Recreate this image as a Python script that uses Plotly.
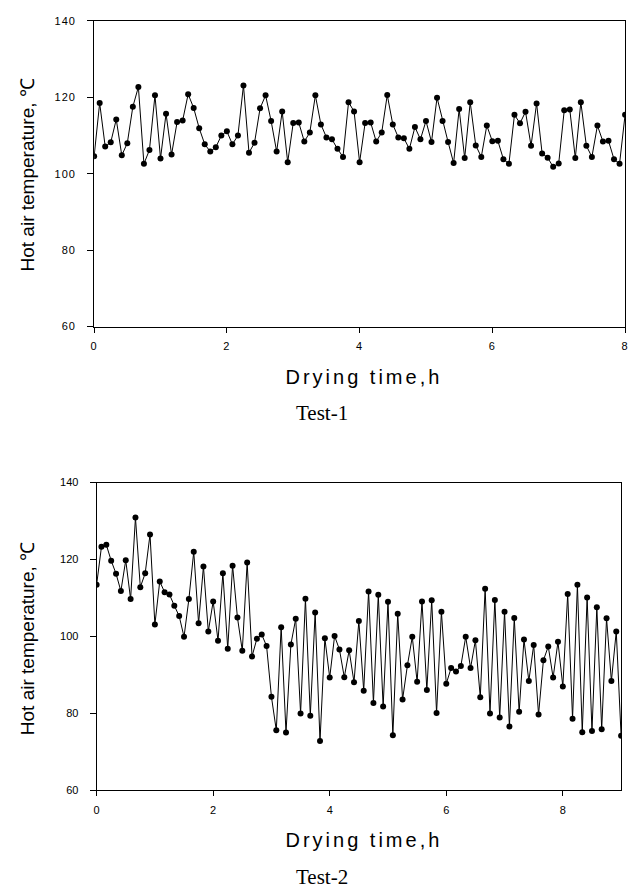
import plotly.graph_objects as go

# ---- data ----
sample_interval_h = 5 / 60  # one reading every 5 minutes

test1_temp = [104.6, 118.5, 107.1, 108.2, 114.2, 104.8, 108.0, 117.5, 122.7, 102.6,
              106.2, 120.5, 104.0, 115.7, 105.0, 113.5, 113.9, 120.8, 117.2, 111.9,
              107.7, 105.8, 106.9, 110.0, 111.1, 107.7, 110.0, 123.1, 105.5, 108.1,
              117.1, 120.5, 113.8, 105.8, 116.3, 103.0, 113.3, 113.4, 108.4, 110.8,
              120.5, 112.9, 109.5, 109.0, 106.5, 104.4, 118.7, 116.3, 103.0, 113.3,
              113.4, 108.4, 110.8, 120.6, 112.9, 109.5, 109.3, 106.5, 112.2, 109.0,
              113.8, 108.3, 119.9, 113.8, 108.3, 102.8, 116.9, 104.1, 118.7, 107.4,
              104.4, 112.6, 108.5, 108.6, 103.8, 102.6, 115.4, 113.2, 116.2, 107.3,
              118.4, 105.3, 104.2, 101.8, 102.7, 116.6, 116.8, 104.1, 118.7, 107.3,
              104.4, 112.6, 108.4, 108.6, 103.8, 102.6, 115.4]

test2_temp = [113.4, 123.3, 123.8, 119.7, 116.3, 111.8, 119.8, 109.7, 130.9, 112.8,
              116.4, 126.5, 103.1, 114.3, 111.5, 110.9, 108.0, 105.3, 99.9, 109.7,
              122.0, 103.4, 118.2, 101.3, 109.1, 98.9, 116.4, 96.8, 118.4, 104.9,
              96.3, 119.2, 94.8, 99.4, 100.5, 97.5, 84.3, 75.6, 102.4, 75.0,
              97.9, 104.6, 80.0, 109.8, 79.4, 106.2, 72.8, 99.5, 89.3, 100.1,
              96.6, 89.4, 96.4, 88.1, 104.0, 85.9, 111.7, 82.7, 110.8, 81.8,
              109.0, 74.3, 105.9, 83.6, 92.5, 99.9, 88.2, 109.1, 86.1, 109.4,
              80.1, 106.4, 87.7, 91.8, 90.9, 92.3, 99.9, 91.8, 99.0, 84.2,
              112.4, 80.0, 109.5, 78.9, 106.4, 76.6, 104.8, 80.4, 99.2, 88.4,
              97.8, 79.7, 93.8, 97.4, 89.3, 98.6, 87.0, 111.0, 78.6, 113.4,
              75.1, 110.1, 75.4, 107.6, 75.9, 104.7, 88.4, 101.3, 74.2]

test1_time = [i * sample_interval_h for i in range(len(test1_temp))]
test2_time = [i * sample_interval_h for i in range(len(test2_temp))]

y_ticks = [60, 80, 100, 120, 140]
x_ticks = [0, 2, 4, 6, 8]
panel_labels = ["Test-1", "Test-2"]
x_title = "Drying time,h"
y_title = "Hot air temperature, \u2103"

W, H = 636, 895

fig = go.Figure()

line_style = dict(color="black", width=1)
marker_style = dict(color="black", size=6, symbol="circle")

fig.add_trace(go.Scatter(x=test1_time, y=test1_temp, mode="lines+markers",
                         line=line_style, marker=marker_style,
                         xaxis="x", yaxis="y", showlegend=False, hoverinfo="skip"))
fig.add_trace(go.Scatter(x=test2_time, y=test2_temp, mode="lines+markers",
                         line=line_style, marker=marker_style,
                         xaxis="x2", yaxis="y2", showlegend=False, hoverinfo="skip"))

tick_font = dict(family="Arial, Liberation Sans, sans-serif", size=11, color="black")


def px_x(p):
    return p / W


def px_y(p):
    return 1 - p / H


common_x = dict(showgrid=False, zeroline=False, showline=True, linecolor="black",
                linewidth=1, mirror=True, ticks="outside", ticklen=5, tickcolor="black",
                tickfont=tick_font, tickvals=x_ticks, ticklabelstandoff=4, fixedrange=True)
common_y = dict(showgrid=False, zeroline=False, showline=True, linecolor="black",
                linewidth=1, mirror=True, ticks="outside", ticklen=6, tickcolor="black",
                tickfont=tick_font, tickvals=y_ticks, range=[60, 140],
                ticklabelstandoff=9, fixedrange=True)

fig.update_layout(
    width=W, height=H,
    margin=dict(l=0, r=0, t=0, b=0),
    paper_bgcolor="white", plot_bgcolor="white",
    hovermode=False,
    xaxis=dict(common_x, domain=[px_x(92), px_x(628)], range=[0, 8], anchor="y"),
    yaxis=dict(common_y, domain=[px_y(325), px_y(15)], anchor="x"),
    xaxis2=dict(common_x, domain=[px_x(94.5), px_x(624)], range=[0, 9], anchor="y2"),
    yaxis2=dict(common_y, domain=[px_y(795), px_y(483)], anchor="x2"),
)

ytitle_font = dict(family="Arial, Liberation Sans, sans-serif", size=19, color="black")
xtitle_font = dict(family="Arial, Liberation Sans, sans-serif", size=20, color="black")
label_font = dict(family="Times New Roman, Liberation Serif, serif", size=21, color="black")

annotations = []
for (ymid, xtitle_y, label_y, label) in [(171, 376, 413, panel_labels[0]),
                                          (641, 845, 883, panel_labels[1])]:
    annotations.append(dict(text=y_title, x=px_x(25), y=px_y(ymid), xref="paper", yref="paper",
                            textangle=-90, showarrow=False, font=ytitle_font,
                            xanchor="center", yanchor="middle"))
    annotations.append(dict(text=x_title, x=px_x(364), y=px_y(xtitle_y), xref="paper", yref="paper",
                            showarrow=False, font=xtitle_font, xanchor="center", yanchor="middle"))
    annotations.append(dict(text=label, x=px_x(322), y=px_y(label_y), xref="paper", yref="paper",
                            showarrow=False, font=label_font, xanchor="center", yanchor="middle"))
fig.update_layout(annotations=annotations)

post_js = """
document.documentElement.style.margin = '0';
document.documentElement.style.overflow = 'hidden';
document.body.style.margin = '0';
document.body.style.padding = '0';
document.body.style.overflow = 'hidden';
document.querySelectorAll('text').forEach(function (t) {
    if (t.textContent === 'Drying time,h') { t.style.letterSpacing = '3px'; }
});
document.querySelectorAll('.xtick text, .ytick text').forEach(function (t) {
    t.style.letterSpacing = '1px';
});
"""

fig.write_html("out.html", post_script=post_js,
               config={"displayModeBar": False, "staticPlot": True})
